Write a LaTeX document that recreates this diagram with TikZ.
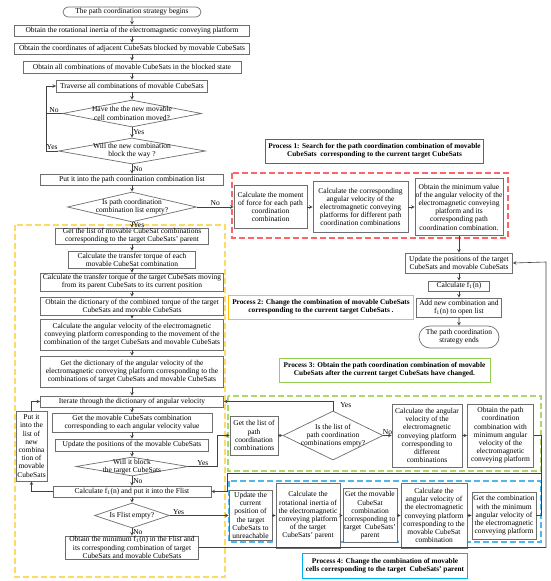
\documentclass[tikz,border=0pt]{standalone}
\usepackage{fontspec}
\setmainfont{Liberation Serif}
\usepackage{tikz}
\usetikzlibrary{arrows,shapes.geometric,shapes.misc,positioning}
\newcommand{\boxfont}{\fontsize{7.5}{8.2}\selectfont}
\newcommand{\titlefont}{\fontsize{7.3}{8.2}\selectfont\bfseries}
\tikzstyle{block} = [rectangle, draw=boxGray, line width=0.7pt, fill=white, align=center, inner sep=0.5pt, font=\boxfont]
\tikzstyle{terminal} = [rounded rectangle, draw=boxGray, line width=0.7pt, fill=white, align=center, inner sep=1pt, font=\boxfont]
\tikzstyle{decision} = [diamond, draw=boxGray, line width=0.7pt, fill=white, inner sep=0pt]
\tikzstyle{dtext} = [align=center, inner sep=0pt, font=\boxfont]
\tikzstyle{txt} = [inner sep=1pt, font=\boxfont]
\tikzstyle{titleRed} = [rectangle, draw=procRed, line width=1pt, fill=white, align=center, font=\titlefont]
\tikzstyle{titleYellow} = [rectangle, draw=procYellow, line width=1pt, fill=white, align=center, font=\titlefont]
\tikzstyle{titleGreen} = [rectangle, draw=procGreen, line width=1pt, fill=white, align=center, font=\titlefont]
\tikzstyle{titleBlue} = [rectangle, draw=procBlue, line width=1pt, fill=white, align=center, font=\titlefont]
\tikzstyle{regionRed} = [draw=dashRed, line width=1.2pt, dash pattern=on 6pt off 3pt]
\tikzstyle{regionYellow} = [draw=dashYellow, line width=1.2pt, dash pattern=on 6pt off 3pt]
\tikzstyle{regionGreen} = [draw=dashGreen, line width=1.2pt, dash pattern=on 6pt off 3pt]
\tikzstyle{regionBlue} = [draw=dashBlue, line width=1.2pt, dash pattern=on 6pt off 3pt]
\tikzstyle{line} = [draw=lineGray, line width=0.6pt, ->, >= stealth]
\tikzstyle{plainline} = [draw=lineGray, line width=0.6pt]
\definecolor{boxGray}{HTML}{6E6E6E}
\definecolor{lineGray}{HTML}{404040}
\definecolor{procRed}{HTML}{FF2020}
\definecolor{dashRed}{HTML}{FF6464}
\definecolor{procYellow}{HTML}{FFC000}
\definecolor{dashYellow}{HTML}{FFD966}
\definecolor{procGreen}{HTML}{92D050}
\definecolor{dashGreen}{HTML}{A9D86E}
\definecolor{procBlue}{HTML}{00B0F0}
\definecolor{dashBlue}{HTML}{4FB8E8}

\begin{document}
\begin{tikzpicture}[x=1pt, y=1pt, node distance = 20pt]
        \useasboundingbox (0,0) rectangle (550,-581);
        % process regions
        \draw[regionRed] (232,-173) rectangle (508,-238);
        \draw[regionYellow] (15,-225) rectangle (225,-577);
        \draw[regionGreen] (228,-396) rectangle (541,-471);
        \draw[regionBlue] (229,-481) rectangle (541,-542);
        % main column
        \node(start) [terminal, minimum width = 140pt, minimum height = 10pt] at (132,-12) {The path coordination strategy begins};
        \node(inertia) [block, below of = start, node distance = 18.5pt, minimum width = 235pt, minimum height = 11pt] {Obtain the rotational inertia of the electromagnetic conveying platform};
        \node(coords) [block, below of = inertia, node distance = 18pt, minimum width = 235pt, minimum height = 11pt] {Obtain the coordinates of adjacent CubeSats blocked by movable CubeSats};
        \node(allComb) [block, below of = coords, node distance = 18.5pt, minimum width = 218pt, minimum height = 12pt] {Obtain all combinations of movable CubeSats in the blocked state};
        \node(traverse) [block, below of = allComb, node distance = 19pt, minimum width = 151pt, minimum height = 12pt] {Traverse all combinations of movable CubeSats};
        \node(moved) [decision, below of = traverse, node distance = 27.5pt, minimum width = 139pt, minimum height = 27pt, label={[dtext]center:{Have the the new movable\\cell combination moved?}}] {};
        \node(blockWay) [decision, below of = moved, node distance = 37.5pt, minimum width = 147pt, minimum height = 26pt, label={[dtext]center:{Will the new combination\\block the way ?}}] {};
        \node(putList) [block, below of = blockWay, node distance = 28.5pt, minimum width = 183pt, minimum height = 11pt] {Put it into the path coordination combination list};
        \node(listEmpty) [decision, below of = putList, node distance = 27.5pt, minimum width = 129pt, minimum height = 30pt, label={[dtext]center:{Is path coordination\\combination list empty?}}] {};
        \node(getParent) [block, below of = listEmpty, node distance = 29pt, minimum width = 153pt, minimum height = 16pt] {Get the list of movable CubeSat combinations\\corresponding to the target CubeSats' parent};
        \node(torqueEach) [block, below of = getParent, node distance = 23.5pt, minimum width = 127pt, minimum height = 17pt] {Calculate the transfer torque of each\\movable CubeSat combination};
        \node(torqueTarget) [block, below of = torqueEach, node distance = 22.5pt, minimum width = 183pt, minimum height = 18pt] {Calculate the transfer torque of the target CubeSats moving\\from its parent CubeSats to its current position};
        \node(torqueDict) [block, below of = torqueTarget, node distance = 24pt, minimum width = 183pt, minimum height = 18pt] {Obtain the dictionary of the combined torque of the target\\CubeSats and movable CubeSats};
        \node(angVel) [block, below of = torqueDict, node distance = 28.5pt, minimum width = 183pt, minimum height = 31pt] {Calculate the angular velocity of the electromagnetic\\conveying platform corresponding to the movement of the\\combination of the target CubeSats and movable CubeSats};
        \node(velDict) [block, below of = angVel, node distance = 37pt, minimum width = 183pt, minimum height = 31pt] {Get the dictionary of the angular velocity of the\\electromagnetic conveying platform corresponding to the\\combinations of target CubeSats and movable CubeSats};
        \node(iterate) [block, below of = velDict, node distance = 30pt, minimum width = 183pt, minimum height = 11pt] {Iterate through the dictionary of angular velocity};
        \node(getMovable) [block, below of = iterate, node distance = 21pt, minimum width = 160pt, minimum height = 19pt] {Get the movable CubeSats combination\\corresponding to each angular velocity value};
        \node(updMovable) [block, below of = getMovable, node distance = 22.5pt, minimum width = 153pt, minimum height = 12pt] {Update the positions of the movable CubeSats};
        \node(blockTarget) [decision, below of = updMovable, node distance = 21.5pt, minimum width = 112pt, minimum height = 19pt, label={[dtext]center:{Will it block\\the target CubeSats}}] {};
        \node(calcF) [block, below of = blockTarget, node distance = 25pt, minimum width = 158pt, minimum height = 11pt] {Calculate f\textsubscript{1}(n) and put it into the Flist};
        \node(flistEmpty) [decision, below of = calcF, node distance = 24pt, minimum width = 75pt, minimum height = 25pt, label={[dtext]center:{Is Flist empty?}}] {};
        \node(minF) [block, below of = flistEmpty, node distance = 32pt, minimum width = 133pt, minimum height = 23pt] {Obtain the minimum f\textsubscript{1}(n) in the Flist and\\its corresponding combination of target\\CubeSats and movable CubeSats};
        \node(putNew) [block, minimum width = 31pt, minimum height = 70pt] at (31.5,-446) {Put it\\into the\\list of\\new\\combina\\tion of\\movable\\CubeSats};
        % process 1
        \node(title1) [titleRed, minimum width = 217pt, minimum height = 24pt] at (374.5,-151) {Process 1: Search for the path coordination combination of movable\\CubeSats\ \ corresponding to the current target CubeSats};
        \node(momentP1) [block, right of = listEmpty, node distance = 138.5pt, minimum width = 73pt, minimum height = 43pt] {Calculate the moment\\of force for each path\\coordination\\combination};
        \node(velP1) [block, right of = momentP1, node distance = 90pt, minimum width = 95pt, minimum height = 51pt] {Calculate the corresponding\\angular velocity of the\\electromagnetic conveying\\platforms for different path\\coordination combinations};
        \node(minP1) [block, right of = velP1, node distance = 98.5pt, minimum width = 88pt, minimum height = 57pt] {Obtain the minimum value\\of the angular velocity of the\\electromagnetic conveying\\platform and its\\corresponding path\\coordination combination.};
        \node(updTarget) [block, below of = minP1, node distance = 56pt, minimum width = 107pt, minimum height = 20pt] {Update the positions of the target\\CubeSats and movable CubeSats};
        \node(calcF1) [block, below of = updTarget, node distance = 23pt, minimum width = 61pt, minimum height = 10pt] {Calculate f\textsubscript{1}(n)};
        \node(addOpen) [block, below of = calcF1, node distance = 21.5pt, minimum width = 85pt, minimum height = 19pt] {Add new combination and\\f\textsubscript{1}(n) to open list};
        \node(endNode) [terminal, below of = addOpen, node distance = 29.5pt, minimum width = 82pt, minimum height = 22pt] {The path coordination\\strategy ends};
        % process 2
        \node(title2) [titleYellow, minimum width = 182pt, minimum height = 24pt] at (321,-307) {Process 2: Change the combination of movable CubeSats\\corresponding to the current target CubeSats .};
        % process 3
        \node(title3) [titleGreen, minimum width = 211pt, minimum height = 24pt] at (384.5,-370) {Process 3: Obtain the path coordination combination of movable\\CubeSats after the current target CubeSats have changed.};
        \node(pathList) [block, minimum width = 48pt, minimum height = 39pt] at (254,-435.5) {Get the list of\\path\\coordination\\combinations};
        \node(listEmptyP3) [decision, right of = pathList, node distance = 79pt, minimum width = 100pt, minimum height = 49pt, label={[dtext]center:{Is the list of\\path coordination\\combinations empty?}}] {};
        \node(velP3) [block, right of = listEmptyP3, node distance = 94pt, minimum width = 70pt, minimum height = 63pt] {Calculate the angular\\velocity of the\\electromagnetic\\conveying platform\\corresponding to\\different\\combinations};
        \node(minP3) [block, right of = velP3, node distance = 73.5pt, minimum width = 66pt, minimum height = 63pt] {Obtain the path\\coordination\\combination with\\minimum angular\\velocity of the\\electromagnetic\\conveying platform};
        % process 4
        \node(unreach) [block, right of = flistEmpty, node distance = 118.5pt, minimum width = 43pt, minimum height = 50pt] {Update the\\current\\position of\\the target\\CubeSats to\\unreachable};
        \node(inertiaP4) [block, right of = unreach, node distance = 57.5pt, minimum width = 64pt, minimum height = 65pt] {Calculate the\\rotational inertia of\\the electromagnetic\\conveying platform\\of the target\\CubeSats' parent};
        \node(parentComb) [block, right of = inertiaP4, node distance = 62pt, minimum width = 54pt, minimum height = 54pt] {Get the movable\\CubeSat\\combination\\corresponding to\\target\ \ CubeSats'\\parent};
        \node(velP4) [block, right of = parentComb, node distance = 64pt, minimum width = 66pt, minimum height = 65pt] {Calculate the\\angular velocity of\\the electromagnetic\\conveying platform\\corresponding to the\\movable CubeSat\\combination};
        \node(minP4) [block, right of = velP4, node distance = 70pt, minimum width = 64pt, minimum height = 47pt] {Get the combination\\with the minimum\\angular velocity of\\the electromagnetic\\conveying platform};
        \node(title4) [titleBlue, minimum width = 158pt, minimum height = 25pt] at (385,-565.5) {Process 4: Change the combination of movable\\cells corresponding to the target\ \ CubeSats' parent};
        % turning points
        \coordinate(loopTop) at (46,-86);
        \coordinate(busRight) at (541,-473);
        \coordinate(busLeft) at (227,-473);
        \coordinate(railTop) at (546,-262);
        % connectors
        \draw[line] (start) -- (inertia);
        \draw[line] (inertia) -- (coords);
        \draw[line] (coords) -- (allComb);
        \draw[line] (allComb) -- (traverse);
        \draw[line] (traverse) -- (moved);
        \draw[line] (moved) --node[txt, right]{Yes} (blockWay);
        \draw[line] (moved.west) -| node[txt, above, pos=0.25]{No} (loopTop) -- (traverse.west);
        \draw[plainline] (blockWay.west) -| node[txt, above, pos=0.25]{Yes} (loopTop);
        \draw[line] (blockWay) --node[txt, right]{No} (putList);
        \draw[line] (putList) -- (listEmpty);
        \draw[line] (listEmpty) --node[txt, right]{Yes} (getParent);
        \draw[line] (listEmpty) --node[txt, above]{No} (momentP1);
        \draw[line] (momentP1) -- (velP1);
        \draw[line] (velP1) -- (minP1);
        \draw[line] (minP1) -- (updTarget);
        \draw[line] (updTarget) -- (calcF1);
        \draw[line] (calcF1) -- (addOpen);
        \draw[line] (addOpen) -- (endNode);
        \draw[line] (getParent) -- (torqueEach);
        \draw[line] (torqueEach) -- (torqueTarget);
        \draw[line] (torqueTarget) -- (torqueDict);
        \draw[line] (torqueDict) -- (angVel);
        \draw[line] (angVel) -- (velDict);
        \draw[line] (velDict) -- (iterate);
        \draw[line] (iterate) -- (getMovable);
        \draw[line] (getMovable) -- (updMovable);
        \draw[line] (updMovable) -- (blockTarget);
        \draw[line] (blockTarget) --node[txt, right]{No} (calcF);
        \draw[line] (blockTarget.east) --node[txt, above]{Yes} ++(29,0) |- (pathList.west);
        \draw[line] (pathList) -- (listEmptyP3);
        \draw[line] (listEmptyP3.north) |- node[txt, pos=0.5, anchor=north west, xshift=6pt]{Yes} (iterate.east);
        \draw[line] (listEmptyP3) --node[txt, above]{No} (velP3);
        \draw[line] (velP3) -- (minP3);
        \draw[line] (minP3.east) -| (busRight) -- (busLeft) |- (calcF.east);
        \draw[plainline] (minP4.east) -| (busRight);
        \draw[line] (calcF) -- (flistEmpty);
        \draw[line] (flistEmpty) --node[txt, above, pos=0.15]{Yes} (unreach);
        \draw[line] (flistEmpty) --node[txt, right]{No} (minF);
        \draw[line] (unreach) -- (inertiaP4);
        \draw[line] (inertiaP4) -- (parentComb);
        \draw[line] (parentComb) -- (velP4);
        \draw[line] (velP4) -- (minP4);
        \draw[line] (minF.east) -| (railTop) -- (updTarget.east);
        \draw[line] (calcF.west) -| (putNew.south);
        \draw[line] (putNew.north) |- (iterate.west);
\end{tikzpicture}
\end{document}
